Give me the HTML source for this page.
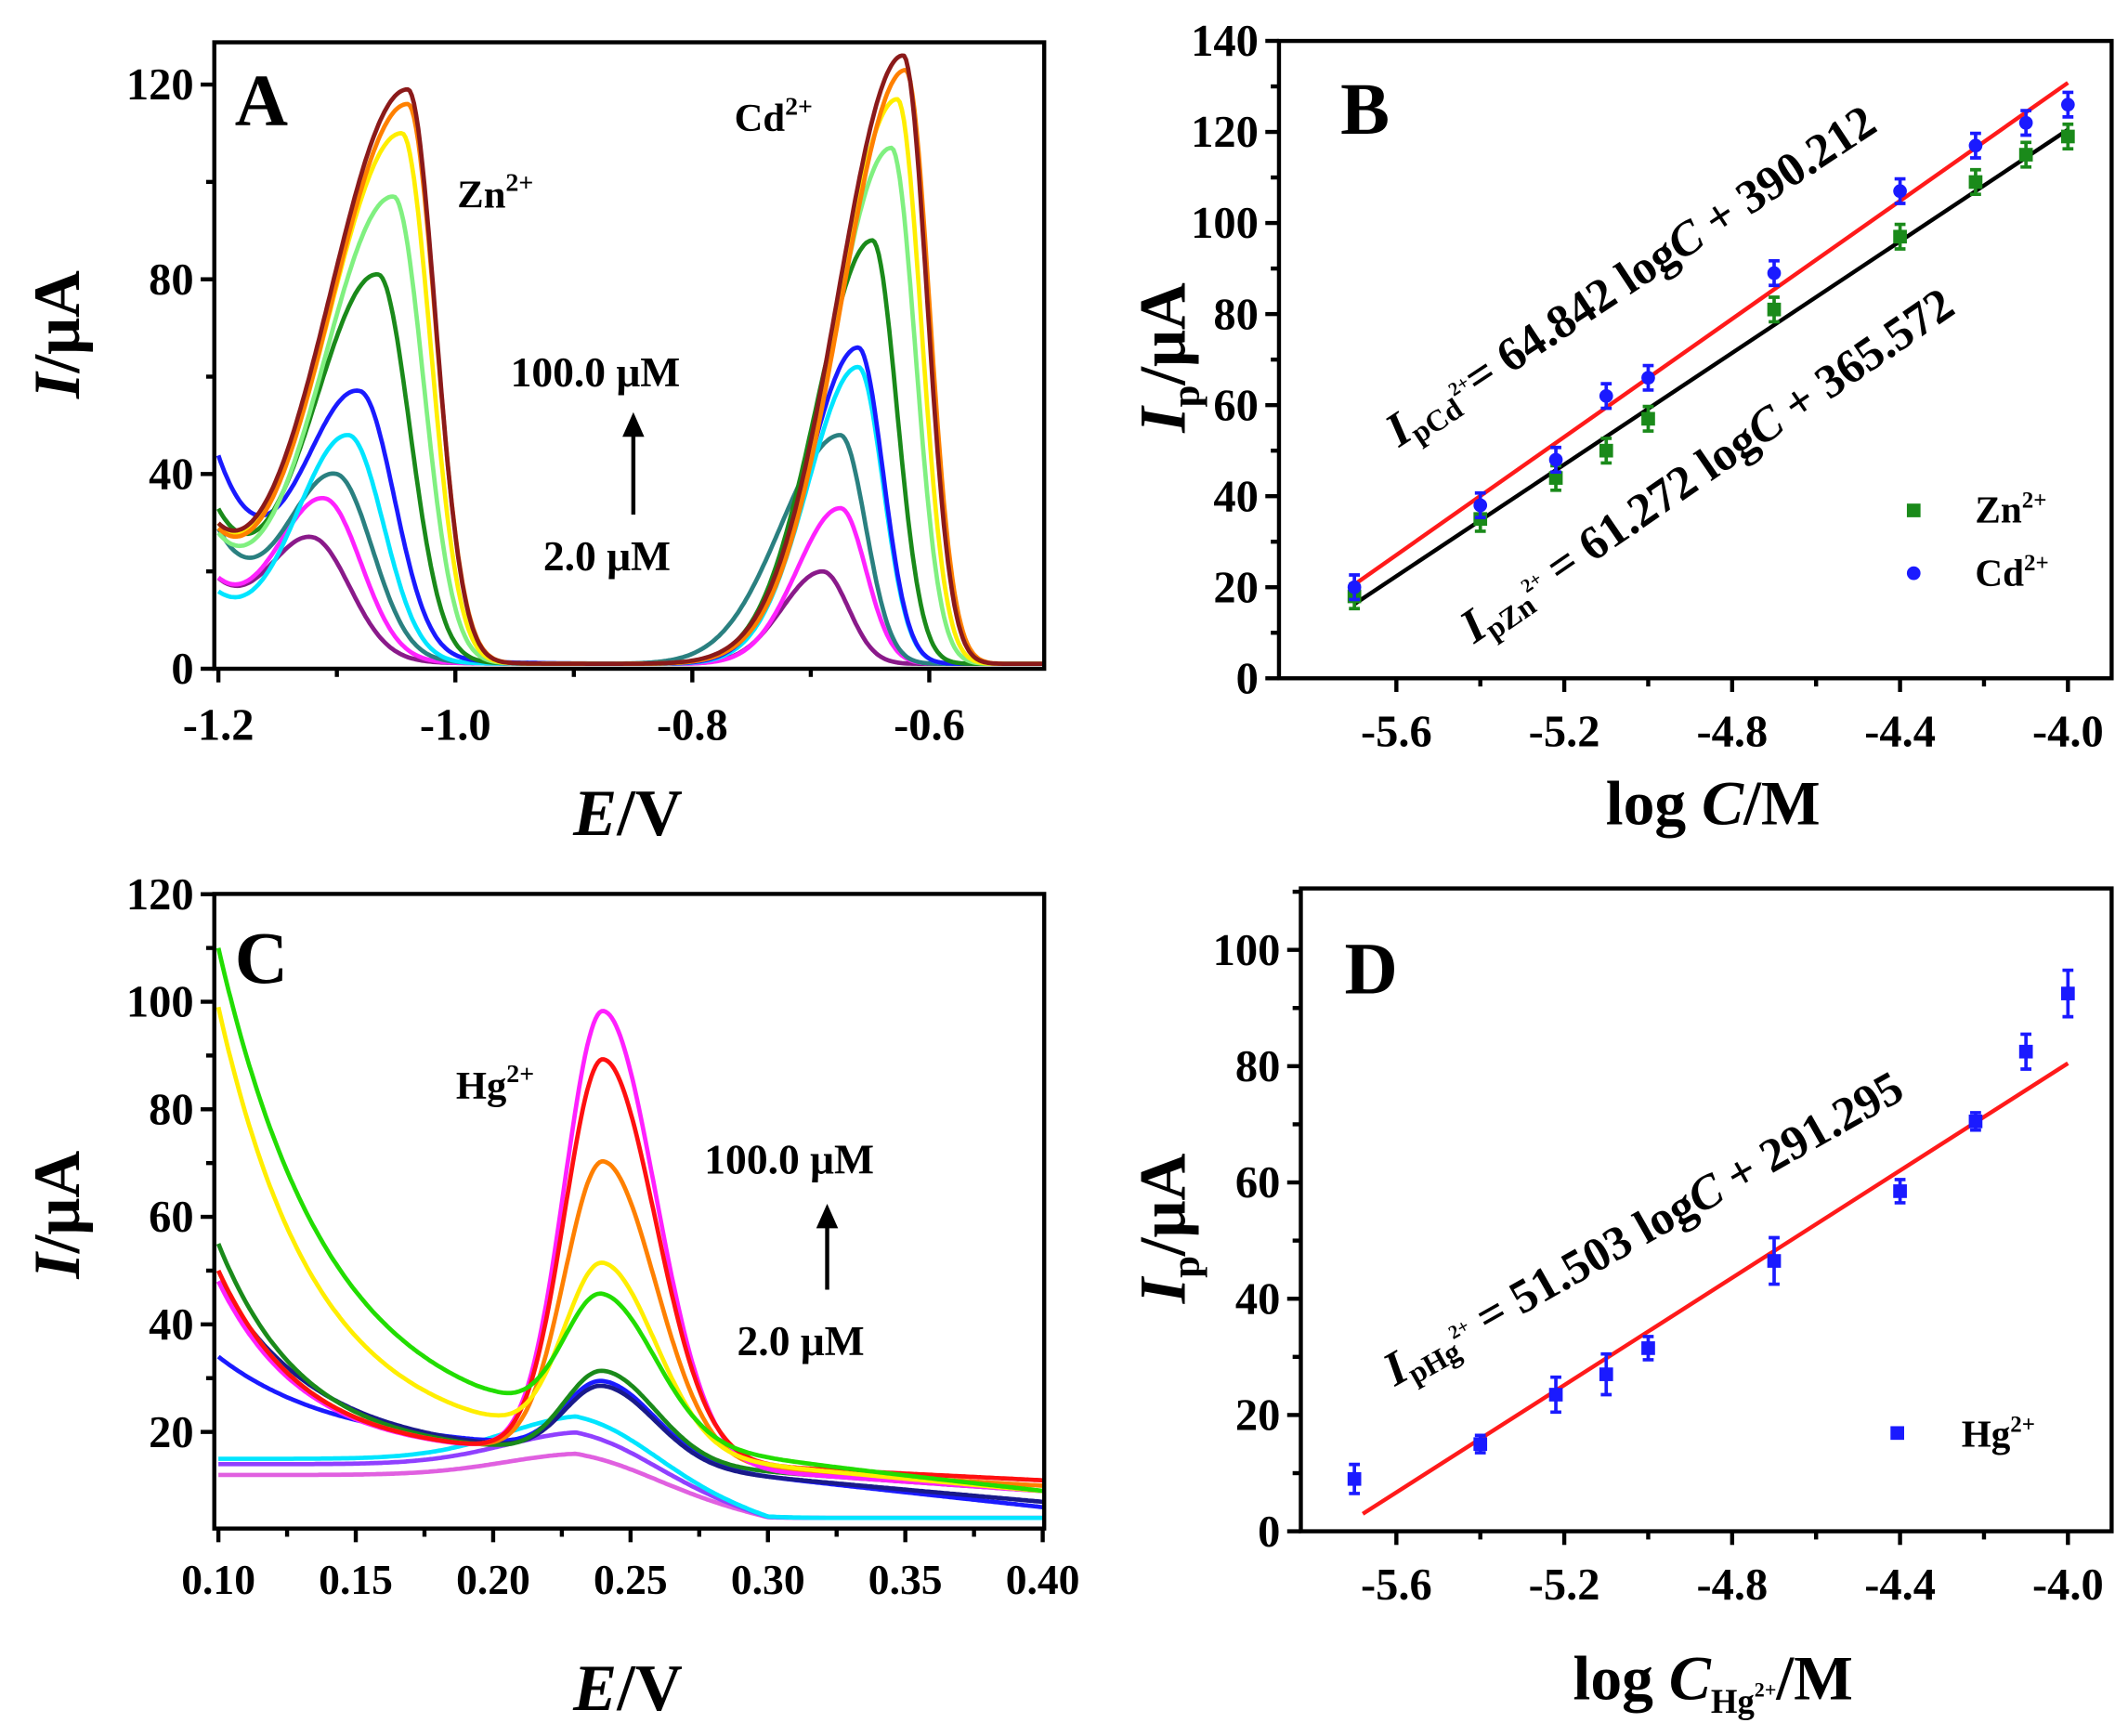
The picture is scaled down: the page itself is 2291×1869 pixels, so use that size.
<!DOCTYPE html>
<html><head><meta charset="utf-8"><style>
html,body{margin:0;padding:0;background:#fff;}
svg{display:block;}
text{font-family:"Liberation Serif",serif;font-weight:bold;fill:#000;}
</style></head><body>
<svg id="s" width="2291" height="1869" viewBox="0 0 1559 1272" preserveAspectRatio="none" xmlns="http://www.w3.org/2000/svg">
<defs>
<clipPath id="cA"><rect x="158" y="32" width="606" height="458"/></clipPath>
<clipPath id="cC"><rect x="158" y="656" width="606" height="463"/></clipPath>
</defs>
<rect width="1559" height="1272" fill="#fff"/>
<g id="curvesA" clip-path="url(#cA)"></g>
<g id="curvesC" clip-path="url(#cC)"></g>
<g id="pts"></g>
<g id="axes" stroke="#000" fill="none" stroke-width="3"></g>
<g id="labels"></g>
<text x="172" y="92" font-size="54">A</text>
<text x="335" y="152" font-size="29">Zn<tspan font-size="19" dy="-12">2+</tspan></text>
<text x="538" y="96" font-size="29">Cd<tspan font-size="19" dy="-12">2+</tspan></text>
<text x="374" y="283" font-size="31">100.0 μM</text>
<text x="398" y="418" font-size="31">2.0 μM</text>
<line x1="464" y1="377" x2="464" y2="312" stroke="#000" stroke-width="3"/>
<polygon points="464,302 456,320 472,320" fill="#000"/>
<text x="460" y="612" font-size="48" text-anchor="middle"><tspan font-style="italic">E</tspan>/V</text>
<text transform="translate(58,245) rotate(-90)" font-size="48" text-anchor="middle"><tspan font-style="italic">I</tspan>/μA</text>
<text x="982" y="98" font-size="54">B</text>
<text transform="translate(1025,328) rotate(-33.5)" font-size="35"><tspan font-style="italic">I</tspan><tspan font-size="22" dy="6">pCd</tspan><tspan font-size="14" dy="-15">2+</tspan><tspan dy="9">= 64.842 log</tspan><tspan font-style="italic">C</tspan> + 390.212</text>
<text transform="translate(1080,472) rotate(-34.5)" font-size="35"><tspan font-style="italic">I</tspan><tspan font-size="22" dy="6">pZn</tspan><tspan font-size="14" dy="-15">2+</tspan><tspan dy="9"> = 61.272 log</tspan><tspan font-style="italic">C</tspan> + 365.572</text>
<text x="1447" y="383" font-size="28">Zn<tspan font-size="17" dy="-11">2+</tspan></text>
<text x="1447" y="429" font-size="28">Cd<tspan font-size="17" dy="-11">2+</tspan></text>
<text x="1255" y="604" font-size="46" text-anchor="middle">log <tspan font-style="italic">C</tspan>/M</text>
<text transform="translate(868,262) rotate(-90)" font-size="48" text-anchor="middle"><tspan font-style="italic">I</tspan><tspan font-size="29" dy="10">p</tspan><tspan dy="-10">/μA</tspan></text>
<text x="172" y="720" font-size="54">C</text>
<text x="334" y="805" font-size="29">Hg<tspan font-size="19" dy="-12">2+</tspan></text>
<text x="516" y="860" font-size="31">100.0 μM</text>
<text x="540" y="993" font-size="31">2.0 μM</text>
<line x1="606" y1="945" x2="606" y2="892" stroke="#000" stroke-width="3"/>
<polygon points="606,882 598,900 614,900" fill="#000"/>
<text x="460" y="1253" font-size="48" text-anchor="middle"><tspan font-style="italic">E</tspan>/V</text>
<text transform="translate(58,890) rotate(-90)" font-size="48" text-anchor="middle"><tspan font-style="italic">I</tspan>/μA</text>
<text x="985" y="728" font-size="54">D</text>
<text transform="translate(1022,1016) rotate(-29.5)" font-size="35"><tspan font-style="italic">I</tspan><tspan font-size="22" dy="6">pHg</tspan><tspan font-size="14" dy="-15">2+</tspan><tspan dy="9"> = 51.503 log</tspan><tspan font-style="italic">C</tspan> + 291.295</text>
<text x="1437" y="1060" font-size="28">Hg<tspan font-size="17" dy="-11">2+</tspan></text>
<text x="1255" y="1245" font-size="46" text-anchor="middle">log <tspan font-style="italic">C</tspan><tspan font-size="25" dy="10">Hg</tspan><tspan font-size="15" dy="-12">2+</tspan><tspan dy="2">/M</tspan></text>
<text transform="translate(868,900) rotate(-90)" font-size="48" text-anchor="middle"><tspan font-style="italic">I</tspan><tspan font-size="29" dy="10">p</tspan><tspan dy="-10">/μA</tspan></text>
</svg>
<script>
var NS="http://www.w3.org/2000/svg";
function el(parent,tag,attrs,txt){var e=document.createElementNS(NS,tag);for(var k in attrs)e.setAttribute(k,attrs[k]);if(txt!==undefined)e.textContent=txt;document.getElementById(parent).appendChild(e);return e;}
function path(parent,fn,x0,x1,X,Y,col,w){var d="",n=400;for(var i=0;i<=n;i++){var v=x0+(x1-x0)*i/n;d+=(i?"L":"M")+X(v).toFixed(1)+" "+Y(fn(v)).toFixed(1);}el(parent,"path",{d:d,fill:"none",stroke:col,"stroke-width":3.2,"stroke-linejoin":"round"});}
function ag(x,p,H,sL,sR){var s=x<p?sL:sR;var t=(x-p)/s;return H*Math.exp(-t*t/2);}
var XA=function(v){return 160+(v+1.2)*868;},YA=function(i){return 490-i*3.567;};
var A=[["#8a1a8a",19,-1.12,27,-0.69,20],["#ff22ff",19,-1.11,35,-0.675,33],["#2a8080",29,-1.10,40,-0.675,48],["#00e5ff",16,-1.09,48,-0.66,62],["#1a1aff",44,-1.08,57,-0.66,66],["#1a8a1a",33,-1.065,81,-0.648,88],["#80f080",28,-1.052,97,-0.632,107],["#ffee00",30,-1.045,110,-0.627,117],["#ff8000",29,-1.04,116,-0.62,123],["#8b1a1a",30,-1.04,119,-0.622,126]];
A.forEach(function(c){var L=c[1],zp=c[2],zH=c[3],cp=c[4],cH=c[5];
 var zsL=0.028+0.04*zH/120,zsR=0.034-0.011*zH/120;
 var csL=0.03+0.025*cH/126,csR=0.022-0.002*cH/126;
 if(c[0]=="#2a8080")csL=0.05;
 var tau=c[0]=="#1a1aff"?0.05:0.045;
 var B=Math.max(0,L-ag(-1.2,zp,zH,zsL,zsR)-1);
 var zHe=zH-1-B*Math.exp(-(zp+1.2)/tau);
 var f=function(x){return 1+B*Math.exp(-(x+1.2)/tau)+ag(x,zp,zHe,zsL,zsR)+ag(x,cp,cH-1,csL,csR);};
 path("curvesA",f,-1.2,-0.49,XA,YA,c[0]);});
var XC=function(v){return 160+(v-0.1)*2013;},YC=function(i){return 1128-i*3.94;};
var C=[["#e060e0",13,12,4,16,0.03],["#9040ff",16,14,4,20,0.03],["#00e5ff",17,15,4,23,0.03],["#1a1aff",34,17,6,29,0.04],["#1a1a8a",48,16,7,28,0.035],["#1a8a1a",55,16,9,31,0.03],["#ff8000",50,16,10,70,0.03],["#ff20ff",48,16,9,98,0.03],["#ff1010",50,16,11,89,0.03],["#ffee00",99,18,9,50,0.035],["#22dd00",110,20,9,43,0.04]];
C.forEach(function(c){var L=c[1],m=c[2],T=c[3],H=c[4],tau=c[5];
 var lin=function(x){return m+(T-m)*(x-0.2)/0.2;};
 var base=function(x){return x<0.2?m+(m-T)*0.15*(0.2-x)/0.1:lin(x);};
 var B=L-base(0.1);var pk=H-base(0.24);
 var f=function(x){return base(x)+B*Math.exp(-(x-0.1)/tau)+ag(x,0.24,pk,0.014,0.019);};
 if(H<25){var b2=function(x){return T+(m-T)*Math.max(0,Math.min(1,(0.3-x)/0.07));};
  pk=H-m;f=function(x){return b2(x)+ag(x,0.235,pk,0.03,0.025);};}
 path("curvesC",f,0.1,0.4,XC,YC,c[0]);});
function frame(x0,y0,x1,y1){el("axes","rect",{x:x0,y:y0,width:x1-x0,height:y1-y0});}
function tick(x1,y1,x2,y2){el("axes","line",{x1:x1,y1:y1,x2:x2,y2:y2});}
function lab(x,y,t,anc,fs){el("labels","text",{x:x,y:y,"text-anchor":anc,"font-size":fs||33},t);}
frame(157,31,765,490);
[0,40,80,120].forEach(function(v){var y=YA(v);tick(157,y,147,y);lab(142,y+11,v,"end");});
[20,60,100].forEach(function(v){var y=YA(v);tick(157,y,151,y);});
[-1.2,-1.0,-0.8,-0.6].forEach(function(v){var x=XA(v);tick(x,490,x,500);lab(x,542,v.toFixed(1),"middle");});
[-1.1,-0.9,-0.7].forEach(function(v){var x=XA(v);tick(x,490,x,496);});
var XB=function(v){return 1023+(v+5.6)*307.5;},YB=function(i){return 497-i*3.336;};
frame(937,30,1547,497);
for(var v=0;v<=140;v+=20){var y=YB(v);tick(937,y,927,y);lab(922,y+11,v,"end");}
for(var v=10;v<140;v+=20){var y=YB(v);tick(937,y,931,y);}
[-5.6,-5.2,-4.8,-4.4,-4.0].forEach(function(v){var x=XB(v);tick(x,497,x,507);lab(x,547,v.toFixed(1),"middle");});
[-5.4,-5.0,-4.6,-4.2].forEach(function(v){var x=XB(v);tick(x,497,x,503);});
var xs=[-5.7,-5.4,-5.22,-5.1,-5.0,-4.7,-4.4,-4.22,-4.1,-4.0];
var zn=[18,35,44,50,57,81,97,109,115,119],cd=[20,38,48,62,66,89,107,117,122,126];
el("pts","line",{x1:XB(-5.7),y1:YB(16.3),x2:XB(-4.0),y2:YB(120.5),stroke:"#000","stroke-width":3});
el("pts","line",{x1:XB(-5.7),y1:YB(20.6),x2:XB(-4.0),y2:YB(130.8),stroke:"#ff1a1a","stroke-width":3});
xs.forEach(function(x,i){var X=XB(x);
 [[zn[i],"#1a8a1a",0],[cd[i],"#1a1aff",1]].forEach(function(p){var Y=YB(p[0]);
  el("pts","path",{d:"M"+(X-4)+" "+(Y-9)+"h8M"+X+" "+(Y-9)+"v18M"+(X-4)+" "+(Y+9)+"h8",stroke:p[1],"stroke-width":2.5,fill:"none"});
  if(p[2])el("pts","circle",{cx:X,cy:Y,r:5,fill:p[1]});else el("pts","rect",{x:X-5,y:Y-5,width:10,height:10,fill:p[1]});});});
el("pts","rect",{x:1397,y:369,width:10,height:10,fill:"#1a8a1a"});
el("pts","circle",{cx:1402,cy:420,r:5,fill:"#1a1aff"});
frame(157,655,765,1120);
for(var v=20;v<=120;v+=20){var y=YC(v);tick(157,y,147,y);lab(142,y+11,v,"end");}
for(var v=30;v<120;v+=20){var y=YC(v);tick(157,y,151,y);}
for(var k=0;k<=6;k++){var v=0.1+k*0.05,x=XC(v);tick(x,1120,x,1130);lab(x,1168,v.toFixed(2),"middle",31);}
for(var k=0;k<6;k++){var x=XC(0.125+k*0.05);tick(x,1120,x,1126);}
var XD=function(v){return 1023+(v+5.6)*307.5;},YD=function(i){return 1122-i*4.26;};
frame(953,651,1547,1122);
for(var v=0;v<=100;v+=20){var y=YD(v);tick(953,y,943,y);lab(938,y+11,v,"end");}
for(var v=10;v<=110;v+=20){var y=YD(v);tick(953,y,947,y);}
[-5.6,-5.2,-4.8,-4.4,-4.0].forEach(function(v){var x=XD(v);tick(x,1122,x,1132);lab(x,1172,v.toFixed(1),"middle");});
[-5.4,-5.0,-4.6,-4.2].forEach(function(v){var x=XD(v);tick(x,1122,x,1128);});
el("pts","line",{x1:XD(-5.68),y1:YD(3),x2:XD(-4.0),y2:YD(80.5),stroke:"#ff1a1a","stroke-width":3});
var hg=[9,15,23.5,27,31.5,46.5,58.5,70.5,82.5,92.5],he=[2.5,1.5,3,3.5,2,4,2,1.5,3,4];
xs.forEach(function(x,i){var X=XD(x),Y=YD(hg[i]),e=he[i]*4.26;
 el("pts","path",{d:"M"+(X-4)+" "+(Y-e)+"h8M"+X+" "+(Y-e)+"v"+(2*e)+"M"+(X-4)+" "+(Y+e)+"h8",stroke:"#1a1aff","stroke-width":2.5,fill:"none"});
 el("pts","rect",{x:X-5,y:Y-5,width:10,height:10,fill:"#1a1aff"});});
el("pts","rect",{x:1385,y:1045,width:10,height:10,fill:"#1a1aff"});
</script>
</body></html>
